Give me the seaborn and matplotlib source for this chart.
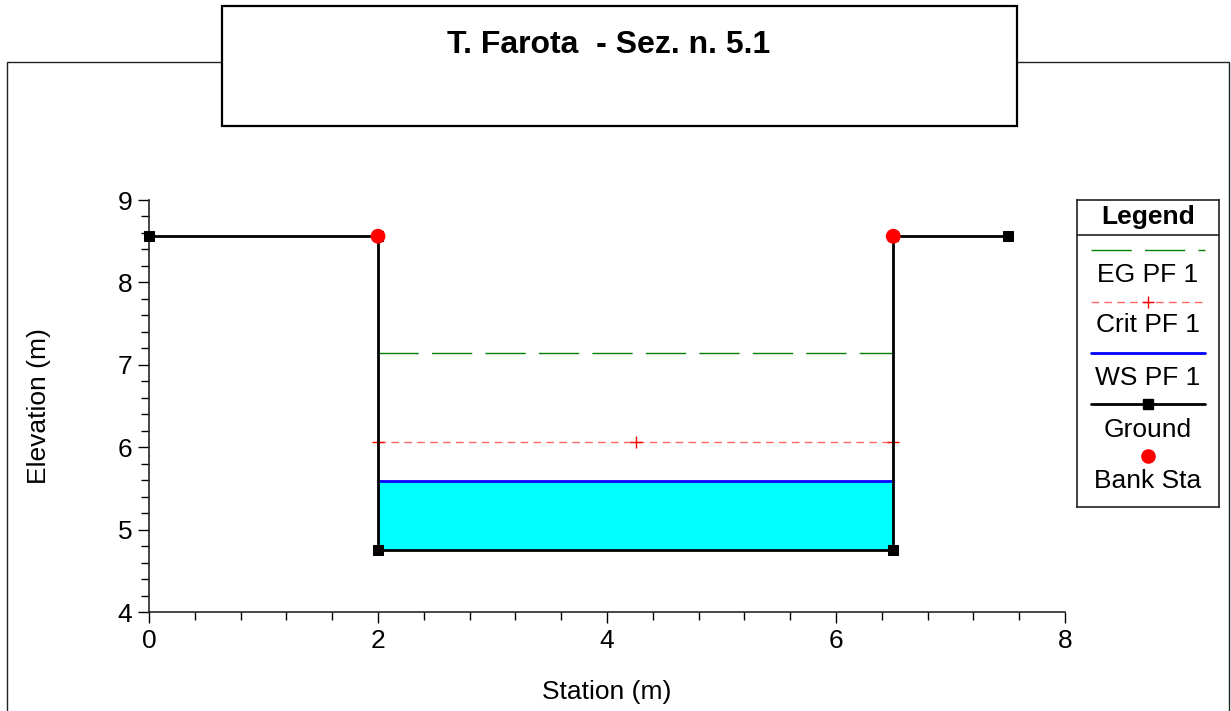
import numpy as np
import pandas as pd
import seaborn as sns
import matplotlib.pyplot as plt
from matplotlib.patches import Rectangle
from matplotlib.lines import Line2D
from matplotlib.ticker import MultipleLocator

# dati sezione
ground_station = [0.0, 2.0, 2.0, 6.5, 6.5, 7.5]
ground_elev = [8.56, 8.56, 4.75, 4.75, 8.56, 8.56]
bank_station = [2.0, 6.5]
bank_elev = [8.56, 8.56]
ws_station = [2.0, 6.5]
ws_elev = [5.59, 5.59]
crit_station = [2.0, 4.25, 6.5]
crit_elev = [6.06, 6.06, 6.06]
eg_station = [2.0, 6.5]
eg_elev = [7.14, 7.14]
legend_labels = ['EG PF 1', 'Crit PF 1', 'WS PF 1', 'Ground', 'Bank Sta']
title = 'T. Farota  - Sez. n. 5.1'

sns.set_style('ticks')
plt.rcParams['font.family'] = ['Liberation Sans', 'DejaVu Sans']
plt.rcParams['text.color'] = 'black'
plt.rcParams['axes.labelcolor'] = 'black'
plt.rcParams['xtick.color'] = 'black'
plt.rcParams['ytick.color'] = 'black'

W, H = 1231, 711
fig = plt.figure(figsize=(W / 100, H / 100), dpi=100)


def fx(px):
    return px / W


def fy(py):
    return 1 - py / H


# cornice esterna e riquadro titolo
fig.patches.append(Rectangle((fx(7), -0.05), fx(1229) - fx(7), fy(62) + 0.05,
                             transform=fig.transFigure, fill=False,
                             edgecolor='#222222', lw=1.0, zorder=0))
fig.patches.append(Rectangle((fx(222), fy(126)), fx(1017) - fx(222), fy(6) - fy(126),
                             transform=fig.transFigure, facecolor='white',
                             edgecolor='black', lw=1.6, zorder=1))
fig.text(fx(609), fy(45), title, ha='center', va='center', fontsize=23,
         fontweight='bold', zorder=2)

ax = fig.add_axes([fx(149), fy(612), fx(1065) - fx(149), fy(200) - fy(612)])

# acqua
ax.fill_between(ws_station, [ground_elev[2], ground_elev[3]], ws_elev,
                color='#00ffff', lw=0, zorder=1)
sns.lineplot(x=ws_station, y=ws_elev, color='#0000ff', lw=2, ax=ax, zorder=3)
sns.lineplot(x=eg_station, y=eg_elev, color='#008000', lw=1, ax=ax, zorder=3,
             dashes=False).lines[-1].set_dashes((29, 9.5))
crit = sns.lineplot(x=crit_station, y=crit_elev, color='#ff0000', lw=1, ax=ax,
                    zorder=3).lines[-1]
crit.set_dashes((5.5, 3.8))
crit.set_alpha(0.6)
sns.scatterplot(x=crit_station, y=crit_elev, marker='+', color='red', s=80,
                linewidth=1, ax=ax, zorder=4, clip_on=False)
gdf = pd.DataFrame({'station': ground_station, 'elev': ground_elev})
gl = sns.lineplot(data=gdf, x='station', y='elev', sort=False, estimator=None,
                  color='black', lw=2, marker='s', markersize=7, mec='black',
                  ax=ax, zorder=5).lines[-1]
gl.set_clip_on(False)
sns.scatterplot(x=bank_station, y=bank_elev, color='red', s=115,
                edgecolor='none', ax=ax, zorder=6, clip_on=False)

ax.set_xlim(0, 8)
ax.set_ylim(4, 9)
ax.xaxis.set_major_locator(MultipleLocator(2))
ax.xaxis.set_minor_locator(MultipleLocator(0.4))
ax.yaxis.set_major_locator(MultipleLocator(1))
ax.yaxis.set_minor_locator(MultipleLocator(0.2))
ax.tick_params(which='major', length=8, width=1, labelsize=19, pad=4)
ax.tick_params(which='minor', length=6, width=1)
sns.despine(ax=ax)
for s in ['left', 'bottom']:
    ax.spines[s].set_linewidth(1.2)
ax.set_xlabel('Station (m)', fontsize=19, labelpad=20)
ax.set_ylabel('Elevation (m)', fontsize=19, labelpad=48)

# legenda
lax = fig.add_axes([fx(1077), fy(507), fx(1219) - fx(1077), fy(200) - fy(507)])
lax.set_xlim(0, 1)
lax.set_ylim(307, 0)
lax.set_xticks([])
lax.set_yticks([])
for s in lax.spines.values():
    s.set_linewidth(1.2)
    s.set_color('#222222')
lax.axhline(35, color='#222222', lw=1.2)
lax.text(0.5, 17, 'Legend', ha='center', va='center', fontsize=19, fontweight='bold')
x0, x1 = 0.1, 0.9
eg_l = Line2D([x0, x1], [50, 50], color='#008000', lw=1)
eg_l.set_dashes((29, 9.5))
lax.add_line(eg_l)
cr_l = Line2D([x0, x1], [102, 102], color='red', lw=1, alpha=0.6)
cr_l.set_dashes((5.5, 3.8))
lax.add_line(cr_l)
lax.plot([0.5], [102], marker='+', color='red', markersize=9, mew=1)
lax.plot([x0, x1], [153, 153], color='#0000ff', lw=2)
lax.plot([x0, x1], [204, 204], color='black', lw=2)
lax.plot([0.5], [204], marker='s', color='black', markersize=7)
lax.plot([0.5], [256], marker='o', color='red', markersize=10.5, mec='none')
for lab, y in zip(legend_labels, [75, 125, 178, 230, 281]):
    lax.text(0.5, y, lab, ha='center', va='center', fontsize=19)

fig.savefig('out.png', dpi=100)
